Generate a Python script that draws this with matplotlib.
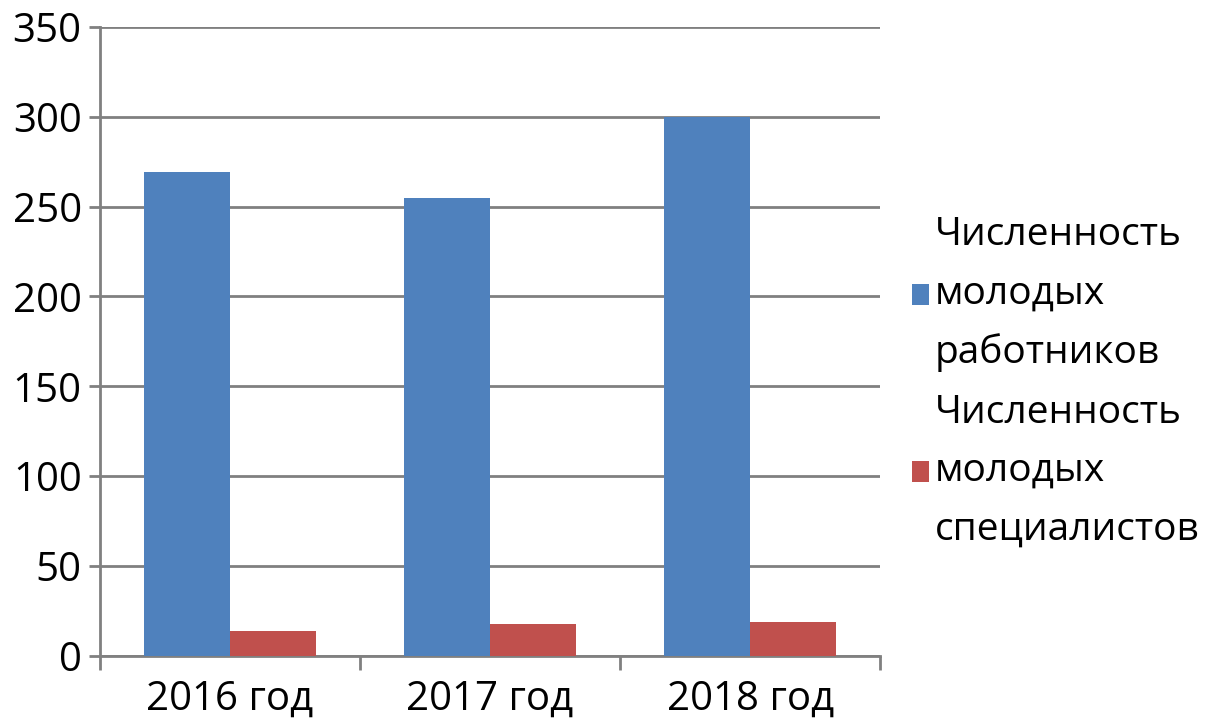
import matplotlib
matplotlib.use("Agg")
import matplotlib.pyplot as plt
import numpy as np

categories = ["2016 год", "2017 год", "2018 год"]
workers = [269, 255, 300]
specialists = [14, 18, 19]
series_labels = ["Численность\nмолодых\nработников", "Численность\nмолодых\nспециалистов"]
yticks = [0, 50, 100, 150, 200, 250, 300, 350]

plt.rcParams['font.family'] = ['Open Sans', 'DejaVu Sans']

fig = plt.figure(figsize=(12.16, 7.24), dpi=100)
ax = fig.add_axes([0.082, 0.094, 0.642, 0.869])

x = np.arange(len(categories))
w = 0.33
b1 = ax.bar(x - w/2, workers, w, color="#4F81BD", label=series_labels[0], zorder=3)
b2 = ax.bar(x + w/2, specialists, w, color="#C0504D", label=series_labels[1], zorder=3)

ax.set_xlim(-0.5, 2.5)
ax.set_ylim(0, 350)
ax.set_yticks(yticks)
ax.yaxis.grid(True, color="#808080", linewidth=2, zorder=0)
ax.set_axisbelow(True)

for s in ["top", "right"]:
    ax.spines[s].set_visible(False)
ax.spines["left"].set_color("#808080")
ax.spines["left"].set_linewidth(2)
ax.spines["bottom"].set_color("#808080")
ax.spines["bottom"].set_linewidth(2)

ax.set_xticks(x)
ax.set_xticklabels(categories)
ax.tick_params(axis="x", length=0, labelsize=29, pad=17)
ax.set_xticks(np.arange(-0.5, 3.0, 1.0), minor=True)
ax.tick_params(axis="x", which="minor", length=10, width=2, color="#808080", direction="out")
ax.tick_params(axis="y", length=8, width=2, color="#808080", labelsize=29, pad=5)

leg = ax.legend(handles=[b1, b2], loc="center left", bbox_to_anchor=(1.02, 0.435),
                frameon=False, fontsize=28, handlelength=0.45, handleheight=0.45,
                handletextpad=0.15, labelspacing=0.55, borderaxespad=0)
for t in leg.get_texts():
    t.set_linespacing(1.7)

fig.savefig("out.png", dpi=100, facecolor="white")
